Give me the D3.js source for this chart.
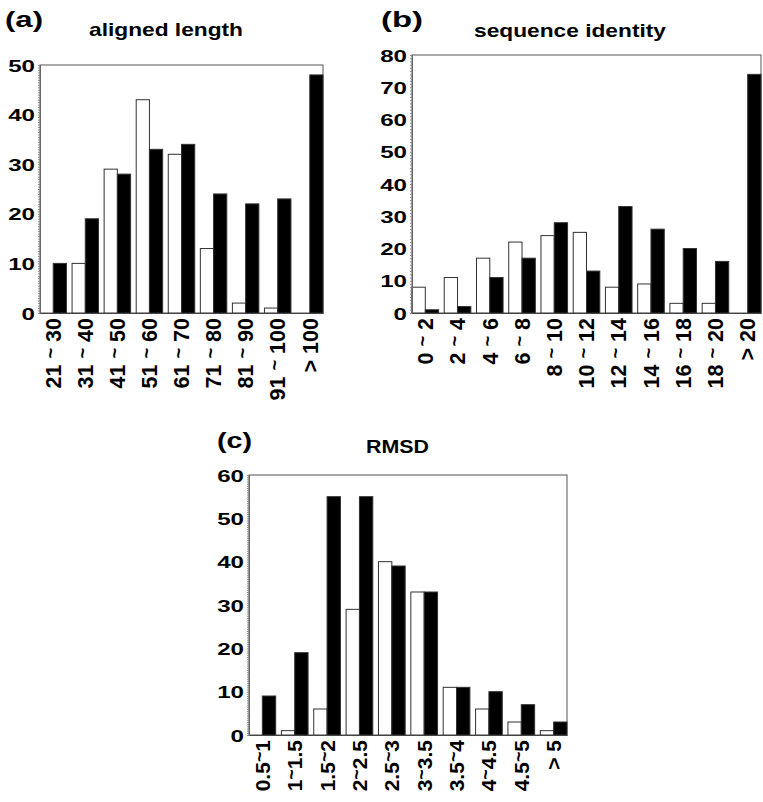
<!DOCTYPE html>
<html><head><meta charset="utf-8">
<script src="https://cdn.jsdelivr.net/npm/d3@7/dist/d3.min.js"></script>
<style>
html,body{margin:0;padding:0;background:#fff;}
svg{display:block;}
text{font-family:"Liberation Sans",Arial,Helvetica,sans-serif;font-weight:bold;fill:#000;}
</style></head>
<body>
<script>
// ---- data ----
const catsA = ["21~30","31~40","41~50","51~60","61~70","71~80","81~90","91~100","> 100"];
const whiteA = [0,10,29,43,32,13,2,1,0];
const blackA = [10,19,28,33,34,24,22,23,48];
const ticksA = [0,10,20,30,40,50];

const catsB = ["0~2","2~4","4~6","6~8","8~10","10~12","12~14","14~16","16~18","18~20","> 20"];
const whiteB = [8,11,17,22,24,25,8,9,3,3,0];
const blackB = [1,2,11,17,28,13,33,26,20,16,74];
const ticksB = [0,10,20,30,40,50,60,70,80];

const catsC = ["0.5~1","1~1.5","1.5~2","2~2.5","2.5~3","3~3.5","3.5~4","4~4.5","4.5~5","> 5"];
const whiteC = [0,1,6,29,40,33,11,6,3,1];
const blackC = [9,19,55,55,39,33,11,10,7,3];
const ticksC = [0,10,20,30,40,50,60];

const panelsTitles = [["(a)","aligned length"],["(b)","sequence identity"],["(c)","RMSD"]];

const svg = d3.select("body").append("svg").attr("width",763).attr("height",802);

function panel(cfg){
  const {cats, white, black, ticks, ymax, x0, x1, y0, y1, minorStep, letter, title, labFs, gap} = cfg;
  const g = svg.append("g");
  const x = d3.scaleBand().domain(cats).range([x0,x1]).paddingInner(0.175).paddingOuter(0);
  const sub = d3.scaleBand().domain(["w","b"]).range([0,x.bandwidth()]);
  const y = d3.scaleLinear().domain([0,ymax]).range([y1,y0]);

  // frame
  g.append("rect").attr("x",x0).attr("y",y0).attr("width",x1-x0).attr("height",y1-y0)
    .attr("fill","none").attr("stroke","#555").attr("stroke-width",1);

  // bars
  const data = cats.map((c,i)=>({c, w:white[i], b:black[i]}));
  const grp = g.selectAll("g.grp").data(data).join("g").attr("class","grp")
    .attr("transform",d=>`translate(${x(d.c)},0)`);
  grp.filter(d=>d.w>0).append("rect")
    .attr("x",sub("w")).attr("width",sub.bandwidth())
    .attr("y",d=>y(d.w)).attr("height",d=>y(0)-y(d.w))
    .attr("fill","#fff").attr("stroke","#333").attr("stroke-width",1);
  grp.filter(d=>d.b>0).append("rect")
    .attr("x",sub("b")).attr("width",sub.bandwidth())
    .attr("y",d=>y(d.b)).attr("height",d=>y(0)-y(d.b))
    .attr("fill","#000").attr("stroke","#333").attr("stroke-width",1);

  // minor ticks
  const minor = g.append("g").attr("transform",`translate(${x0},0)`)
    .call(d3.axisLeft(y).tickValues(d3.range(0,ymax+0.001,minorStep)).tickSize(2).tickFormat(""));
  minor.select(".domain").attr("stroke","#666");
  minor.selectAll(".tick line").attr("stroke","#888");

  // major labels
  const sx = 1.42;
  const major = g.append("g").attr("transform",`translate(${x0},0)`)
    .call(d3.axisLeft(y).tickValues(ticks).tickSize(0).tickPadding(5/sx).tickFormat(d3.format("d")));
  major.select(".domain").remove();
  major.selectAll(".tick text").attr("font-size",17).attr("font-family",null)
    .attr("transform",`scale(${sx},1)`).attr("dy","0.36em");

  // bottom axis
  const xa = g.append("g").attr("transform",`translate(0,${y1})`)
    .call(d3.axisBottom(x).tickSize(0));
  xa.select(".domain").attr("stroke","#444");
  xa.selectAll(".tick text").attr("font-size",labFs).attr("font-family",null)
    .attr("transform","rotate(-90)").attr("text-anchor","end")
    .attr("x",-5).attr("y",0).attr("dy","0.36em")
    .each(function(d){
      const t = d3.select(this); t.text(null);
      const parts = d.split("~");
      if(parts.length===2){
        t.append("tspan").text(parts[0]+gap);
        t.append("tspan").attr("baseline-shift","0.22em").attr("font-size","0.85em").text("~");
        t.append("tspan").text(gap+parts[1]);
      } else t.text(d);
    });

  // titles
  g.append("text").attr("x",letter.x).attr("y",letter.y).attr("font-size",letter.fs)
    .attr("textLength",letter.w).attr("lengthAdjust","spacingAndGlyphs").text(letter.t);
  g.append("text").attr("x",title.x).attr("y",title.y).attr("font-size",title.fs)
    .attr("textLength",title.w).attr("lengthAdjust","spacingAndGlyphs").text(title.t);
}

panel({cats:catsA, white:whiteA, black:blackA, ticks:ticksA, ymax:50,
  x0:40, x1:323, y0:65, y1:313, minorStep:0.5, labFs:21.5, gap:" ",
  letter:{t:panelsTitles[0][0], x:5, y:27, fs:22, w:38},
  title:{t:panelsTitles[0][1], x:89, y:36, fs:19, w:154}});
panel({cats:catsB, white:whiteB, black:blackB, ticks:ticksB, ymax:80,
  x0:412, x1:761, y0:55, y1:313, minorStep:1, labFs:21.5, gap:" ",
  letter:{t:panelsTitles[1][0], x:381, y:27, fs:22, w:42},
  title:{t:panelsTitles[1][1], x:474, y:37, fs:19, w:192}});
panel({cats:catsC, white:whiteC, black:blackC, ticks:ticksC, ymax:60,
  x0:249, x1:567, y0:475, y1:735, minorStep:0.5, labFs:21, gap:"",
  letter:{t:panelsTitles[2][0], x:217, y:448, fs:22, w:35},
  title:{t:panelsTitles[2][1], x:366, y:453, fs:19, w:63}});
</script>
</body></html>
